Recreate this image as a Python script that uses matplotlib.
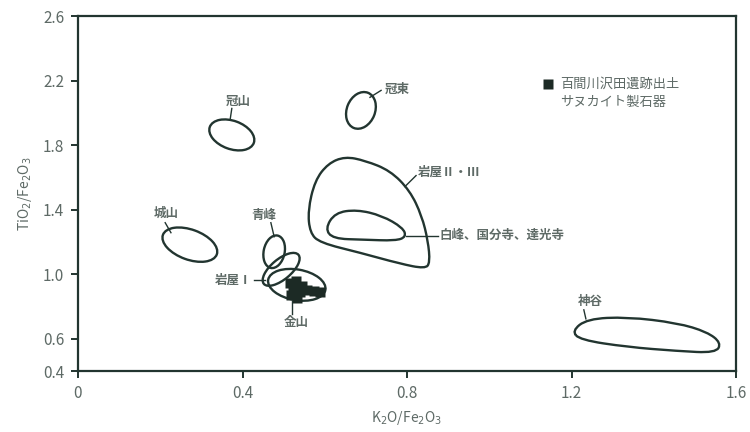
import numpy as np
import matplotlib
matplotlib.use("Agg")
import matplotlib.pyplot as plt
from matplotlib.patches import Ellipse, PathPatch
from matplotlib.path import Path
from matplotlib.transforms import Affine2D

plt.rcParams['font.family'] = ['Noto Sans CJK JP', 'DejaVu Sans']

# elliptical source fields: centre (K2O/Fe2O3, TiO2/Fe2O3), diameters, tilt
ell_names = ['冠山', '冠東', '城山', '青峰', '岩屋Ⅰ', '金山']
ell_x = [0.374, 0.688, 0.272, 0.477, 0.494, 0.532]
ell_y = [1.863, 2.015, 1.183, 1.139, 1.030, 0.934]
ell_major = [0.29, 0.235, 0.355, 0.205, 0.28, 0.36]
ell_minor = [0.175, 0.175, 0.186, 0.13, 0.125, 0.19]
ell_tilt = [-20, 68, -20, 78, 40, -10]

# irregular source fields: outline points
iwaya23_x = [0.649, 0.698, 0.759, 0.807, 0.836, 0.851, 0.856, 0.844, 0.783, 0.686, 0.588, 0.564, 0.559, 0.576, 0.608]
iwaya23_y = [1.729, 1.704, 1.642, 1.518, 1.362, 1.207, 1.071, 1.034, 1.065, 1.133, 1.195, 1.257, 1.394, 1.580, 1.686]
shiramine_x = [0.601, 0.625, 0.678, 0.739, 0.790, 0.798, 0.773, 0.693, 0.620]
shiramine_y = [1.282, 1.381, 1.400, 1.363, 1.288, 1.232, 1.207, 1.214, 1.220]
kamitani_x = [1.201, 1.238, 1.335, 1.457, 1.530, 1.564, 1.551, 1.457, 1.335, 1.221]
kamitani_y = [0.648, 0.723, 0.735, 0.698, 0.642, 0.574, 0.512, 0.524, 0.549, 0.593]

# sanukite artefacts from Hyakkengawa Sawada site
art_x = [0.516, 0.530, 0.545, 0.523, 0.540, 0.557, 0.574, 0.588, 0.518, 0.533]
art_y = [0.947, 0.959, 0.928, 0.903, 0.891, 0.903, 0.897, 0.891, 0.872, 0.853]

# labels: text, text position, leader line start/end, alignment
labels = [
    ('冠山', (0.389, 2.071), (0.374, 2.027), (0.370, 1.959), 'center'),
    ('冠東', (0.745, 2.145), (0.710, 2.096), (0.737, 2.139), 'left'),
    ('城山', (0.214, 1.375), (0.212, 1.319), (0.226, 1.257), 'center'),
    ('青峰', (0.452, 1.363), (0.469, 1.319), (0.477, 1.232), 'center'),
    ('岩屋Ⅰ', (0.423, 0.965), (0.428, 0.965), (0.455, 0.965), 'right'),
    ('金山', (0.530, 0.698), (0.520, 0.835), (0.520, 0.754), 'center'),
    ('岩屋Ⅱ・Ⅲ', (0.827, 1.630), (0.795, 1.543), (0.822, 1.611), 'left'),
    ('白峰、国分寺、達光寺', (0.880, 1.239), (0.798, 1.239), (0.875, 1.239), 'left'),
    ('神谷', (1.245, 0.829), (1.230, 0.779), (1.235, 0.723), 'center'),
]

xticks = [0, 0.4, 0.8, 1.2, 1.6]
xticklabels = ['0', '0.4', '0.8', '1.2', '1.6']
yticks = [0.4, 0.6, 1.0, 1.4, 1.8, 2.2, 2.6]
yticklabels = ['0.4', '0.6', '1.0', '1.4', '1.8', '2.2', '2.6']

ink = '#223530'
grey = '#5e6a66'


def closed_curve(xs, ys):
    # quadratic B-spline through the midpoints of the outline polygon
    pts = np.column_stack([xs, ys])
    mids = (pts + np.roll(pts, -1, axis=0)) / 2
    verts = [mids[-1]]
    codes = [Path.MOVETO]
    for p, m in zip(pts, mids):
        verts += [p, m]
        codes += [Path.CURVE3, Path.CURVE3]
    return Path(verts, codes)


fig = plt.figure(figsize=(7.5, 4.32), dpi=100)
ax = fig.add_axes([78 / 750, 1 - 371 / 432, 658 / 750, 355 / 432])
ax.set_xlim(0, 1.6)
ax.set_ylim(0.4, 2.6)

# ratio of screen scale x to y, so ellipses can be tilted on screen
r = (658 / 1.6) / (355 / 2.2)
squash = Affine2D().scale(1 / r, 1) + ax.transData
for cx, cy, a, b, t in zip(ell_x, ell_y, ell_major, ell_minor, ell_tilt):
    ax.add_patch(Ellipse((cx * r, cy), a, b, angle=t, transform=squash,
                         fill=False, ec=ink, lw=1.7))

for xs, ys in [(iwaya23_x, iwaya23_y), (shiramine_x, shiramine_y), (kamitani_x, kamitani_y)]:
    ax.add_patch(PathPatch(closed_curve(xs, ys), fill=False, ec=ink, lw=1.7))

ax.plot(art_x, art_y, 's', color='#1c2a25', ms=7, mec='none')

for txt, tp, l0, l1, ha in labels:
    ax.plot([l0[0], l1[0]], [l0[1], l1[1]], color=ink, lw=1.0)
    ax.text(tp[0], tp[1], txt, ha=ha, va='center', fontsize=9, color=grey, fontweight='bold')

# legend
ax.plot([1.143], [2.176], 's', color='#1c2a25', ms=7, mec='none')
ax.text(1.172, 2.176, '百間川沢田遺跡出土', ha='left', va='center', fontsize=9.5, color=grey)
ax.text(1.172, 2.065, 'サヌカイト製石器', ha='left', va='center', fontsize=9.5, color=grey)

ax.set_xticks(xticks)
ax.set_xticklabels(xticklabels)
ax.set_yticks(yticks)
ax.set_yticklabels(yticklabels)
ax.tick_params(direction='out', length=5, width=1.4, color=ink, labelcolor=grey, labelsize=11, pad=5)
for s in ax.spines.values():
    s.set_color(ink)
    s.set_linewidth(1.6)

ax.set_xlabel(r'K$_2$O/Fe$_2$O$_3$', fontsize=10, color=grey, labelpad=5)
ax.set_ylabel(r'TiO$_2$/Fe$_2$O$_3$', fontsize=10, color=grey, labelpad=6)

fig.savefig('out.png', dpi=100)
